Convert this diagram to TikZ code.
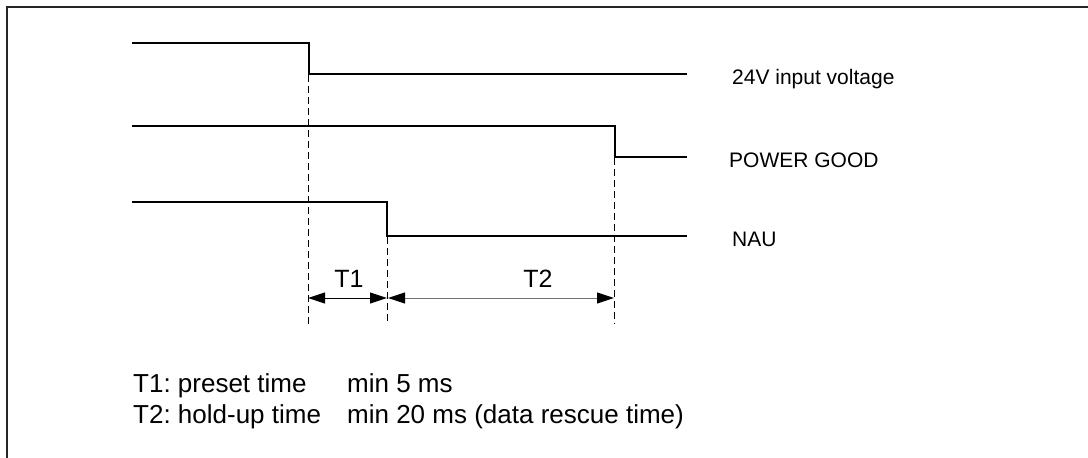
\documentclass[tikz,border=0pt]{standalone}
\usepackage{fontspec}
\setmainfont{Liberation Sans}
\usetikzlibrary{arrows.meta}
\frenchspacing
\begin{document}
\begin{tikzpicture}[x=1pt,y=-1pt,
  signal/.style={line width=2.6pt,line join=miter},
  frameline/.style={line width=1.4pt,color=black!85},
  guide/.style={line width=0.8pt,dash pattern=on 7pt off 4pt},
  span/.style={line width=1pt,{Triangle[length=17pt,width=11pt,color=black]}-{Triangle[length=17pt,width=11pt,color=black]}},
  siglabel/.style={anchor=base west,inner sep=0pt,font=\fontsize{21}{25}\selectfont},
  tlabel/.style={anchor=base,inner sep=0pt,font=\fontsize{25}{29}\selectfont},
  legend/.style={anchor=base west,inner sep=0pt,font=\fontsize{26}{30}\selectfont}]
\useasboundingbox (0,0) rectangle (1088,458);
% frame
\draw[frameline] (7,458) -- (7,7) -- (1088,7);
% signals
\draw[signal] (132,43) -- (309,43) -- (309,74) -- (687,74);
\draw[signal] (132,126) -- (615,126) -- (615,157) -- (687,157);
\draw[signal] (132,202) -- (387,202) -- (387,236) -- (687,236);
% guide coordinates
\coordinate (a) at (308,75);
\coordinate (b) at (387,237);
\coordinate (c) at (614,158);
\coordinate (a2) at (308,324);
\coordinate (b2) at (387,324);
\coordinate (c2) at (614,324);
\draw[guide] (a) -- (a2);
\draw[guide] (b) -- (b2);
\draw[guide] (c) -- (c2);
% spans
\coordinate (t1l) at (308,298);
\coordinate (t1r) at (387,298);
\coordinate (t2l) at (388,298);
\coordinate (t2r) at (614,298);
\draw[span] (t1l) -- (t1r);
\draw[span,color=black!55] (t2l) -- (t2r);
\node[tlabel] (T1) at (349,287) {T1};
\node[tlabel] (T2) at (538,287) {T2};
% signal labels
\node[siglabel] (l1) at (732,84) {24V input voltage};
\node[siglabel] (l2) at (729,167) {POWER GOOD};
\node[siglabel] (l3) at (732,246) {NAU};
% legend
\node[legend] (k1) at (133,392) {T1: preset time};
\node[legend] (v1) at (347,392) {min 5 ms};
\node[legend] (k2) at (133,423) {T2: hold-up time};
\node[legend] (v2) at (347,423) {min 20 ms (data rescue time)};
\end{tikzpicture}
\end{document}
